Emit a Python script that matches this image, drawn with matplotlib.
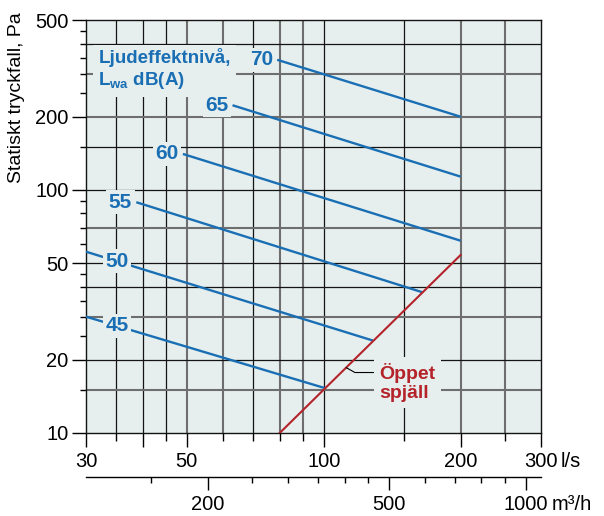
import matplotlib
matplotlib.use('Agg')
import numpy as np
import matplotlib.pyplot as plt
from matplotlib.ticker import NullFormatter

plt.rcParams['font.family'] = ['Liberation Sans', 'DejaVu Sans']
plt.rcParams['mathtext.fontset'] = 'custom'
plt.rcParams['mathtext.rm'] = 'Liberation Sans'
plt.rcParams['mathtext.it'] = 'Liberation Sans:italic'
plt.rcParams['mathtext.bf'] = 'Liberation Sans:bold'

# Sound power level lines (l/s, Pa)
levels = [45, 50, 55, 60, 65, 70]
q_start = [30, 30, 38.7, 49, 63, 79]
p_start = [30.1, 55.7, 89, 140.6, 223, 343]
q_end = [100.6, 128.3, 165, 200, 200, 200]
p_end = [15.3, 24.0, 37.9, 61.8, 113.4, 200]
# labels 45 and 50 sit on the line at this flow
label_q_inline = 35.1

# Open damper curve
damper_q = [80, 200]
damper_p = [10, 54]
damper_point_q = 112  # where the leader touches the curve

# Axis ticks
x_major = [30, 40, 50, 100, 200, 300]
x_major_labels = ['30', '', '50', '100', '200', '300']
x_minor = [35, 45, 60, 70, 80, 90, 150, 250]
y_major = [10, 20, 50, 100, 200, 500]
y_minor = [15, 25, 30, 35, 40, 45, 60, 70, 80, 90, 150, 250, 300, 350, 400, 450]
m3h_major = [200, 500, 1000]
m3h_minor = [150, 250, 300, 350, 400, 450, 600, 700, 800, 900]

# Grid lines (dark thin / grey thick)
grid_x_dark = [35, 40, 45, 70, 100, 150]
grid_x_grey = [50, 60, 80, 90, 200, 250]
grid_y_dark = [20, 40, 50, 100, 150, 400]
grid_y_grey = [15, 30, 70, 200, 300]

BG = '#e6efee'
BLUE = '#1a6fb4'
RED = '#b5232a'
DARK = '#141414'
GREY = '#6e6e6e'

fig = plt.figure(figsize=(6.04, 5.16), dpi=100)
ax = fig.add_axes([86 / 604, 1 - 433 / 516, 454.7 / 604, 413 / 516])
ax.set_xscale('log')
ax.set_yscale('log')
ax.set_xlim(30, 300)
ax.set_ylim(10, 500)
ax.set_facecolor(BG)
for s in ax.spines.values():
    s.set_linewidth(1.0)
    s.set_color(DARK)

for v in grid_x_dark:
    ax.axvline(v, color=DARK, lw=0.9, zorder=1)
for v in grid_x_grey:
    ax.axvline(v, color=GREY, lw=1.5, zorder=1)
for v in grid_y_dark:
    ax.axhline(v, color=DARK, lw=0.9, zorder=1)
for v in grid_y_grey:
    ax.axhline(v, color=GREY, lw=1.5, zorder=1)

# ticks
ax.set_xticks(x_major, x_major_labels)
ax.set_xticks(x_minor, minor=True)
ax.set_yticks(y_major, [str(v) for v in y_major])
ax.set_yticks(y_minor, minor=True)
ax.xaxis.set_minor_formatter(NullFormatter())
ax.yaxis.set_minor_formatter(NullFormatter())
ax.tick_params(axis='x', which='major', length=10, width=1, labelsize=14.5, pad=3.8)
ax.tick_params(axis='x', which='minor', length=5.4, width=1)
ax.tick_params(axis='y', which='major', length=10, width=1, labelsize=14.5, pad=2.5)
ax.tick_params(axis='y', which='minor', length=4.3, width=1)

ax.annotate('l/s', xy=(1, 0), xycoords='axes fraction', xytext=(14.5, -13.8),
            textcoords='offset points', ha='left', va='top', fontsize=14.5)

ax.text(-0.152, 0.811, 'Statiskt tryckfall, Pa', transform=ax.transAxes,
        rotation=90, ha='center', va='center', fontsize=14)

# secondary m3/h scale
sec = ax.secondary_xaxis(-0.106, functions=(lambda q: q * 3.6, lambda m: m / 3.6))
sec.set_xticks(m3h_major, [str(v) for v in m3h_major])
sec.set_xticks(m3h_minor, minor=True)
sec.xaxis.set_minor_formatter(NullFormatter())
sec.tick_params(which='major', length=9.4, width=1, labelsize=14.5, pad=3.5)
sec.tick_params(which='minor', length=4.5, width=1)
sec.spines['bottom'].set_linewidth(1.0)
ax.annotate('m³/h', xy=(1000 / 3.6, -0.106), xycoords=('data', 'axes fraction'),
            xytext=(19, -12.9), textcoords='offset points', ha='left', va='top',
            fontsize=14.5, annotation_clip=False)

# title of the level lines (drawn below the number labels)
ax.text(0.027, 0.9315, 'Ljudeffektnivå,\nL$_{\\mathbf{wa}}$ dB(A)', transform=ax.transAxes,
        color=BLUE, fontsize=13.5, fontweight='bold', ha='left', va='top',
        bbox=dict(boxstyle='square,pad=0.3', fc=BG, ec='none'), zorder=3.5)

# sound level lines
label_box = dict(boxstyle='square,pad=0.12', fc=BG, ec='none')
for lv, q0, p0, q1, p1 in zip(levels, q_start, p_start, q_end, p_end):
    ax.plot([q0, q1], [p0, p1], color=BLUE, lw=1.7, zorder=3, solid_capstyle='butt')
    if q0 <= 30:
        t = np.log(label_q_inline / q0) / np.log(q1 / q0)
        pl = np.exp(np.log(p0) + t * (np.log(p1) - np.log(p0)))
        ax.text(label_q_inline, pl, str(lv), color=BLUE, fontsize=15, fontweight='bold',
                ha='center', va='center', bbox=label_box, zorder=4)
    else:
        ax.annotate(str(lv), xy=(q0, p0), xytext=(-3, 0), textcoords='offset points',
                    color=BLUE, fontsize=15, fontweight='bold', ha='right', va='center',
                    bbox=label_box, zorder=4)

# open damper
ax.plot(damper_q, damper_p, color=RED, lw=1.5, zorder=3)
pt = damper_p[0] * (damper_point_q / damper_q[0]) ** (
    np.log(damper_p[1] / damper_p[0]) / np.log(damper_q[1] / damper_q[0]))
ax.annotate('Öppet\nspjäll', xy=(damper_point_q, pt), xytext=(24, 3.6),
            textcoords='offset points', ha='left', va='top', color=RED,
            fontsize=14, fontweight='bold', zorder=4,
            bbox=dict(boxstyle='square,pad=0.3', fc=BG, ec='none'),
            arrowprops=dict(arrowstyle='-', color='black', lw=0.8, relpos=(0, 0.75),
                            connectionstyle='angle,angleA=0,angleB=-29,rad=0',
                            shrinkA=0, shrinkB=0))

fig.savefig('out.png', dpi=100)
